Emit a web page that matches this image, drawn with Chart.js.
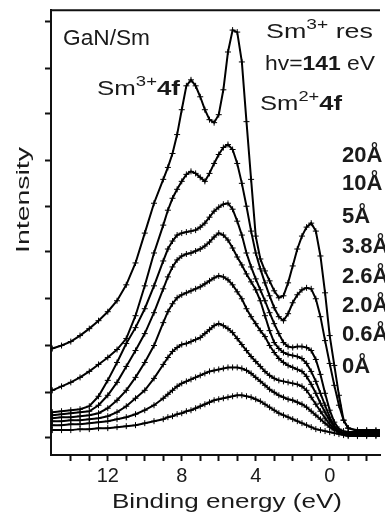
<!DOCTYPE html>
<html>
<head>
<meta charset="utf-8">
<script src="https://cdn.jsdelivr.net/npm/chart.js@4.4.1/dist/chart.umd.min.js"></script>
<style>
  html, body { margin: 0; padding: 0; background: #fff; }
</style>
</head>
<body>
<canvas id="spectra" width="385" height="518"></canvas>
<script>
// binding energy grid (eV)
const energy = [15, 14.5, 14, 13.5, 13, 12.5, 12, 11.5, 11, 10.5, 10, 9.5, 9,
  8.75, 8.5, 8.25, 8, 7.75, 7.5, 7.25, 7, 6.75, 6.5, 6.25, 6, 5.75, 5.5, 5.25, 5,
  4.75, 4.5, 4.25, 4, 3.75, 3.5, 3.25, 3, 2.75, 2.5, 2.25, 2, 1.75, 1.5, 1.25, 1, 0.75, 0.5, 0.25, 0,
  -0.25, -0.5, -0.75, -1, -1.5, -2, -2.5, -3];

// intensity (arb. units) for each Sm thickness
const i20 = [89, 92, 96, 102, 109, 117, 126, 137, 153, 175, 205, 235, 259,
  271, 285, 304, 329, 353, 359, 353, 342, 329, 319, 316, 324, 349, 387, 409, 407,
  377, 317, 259, 202, 179, 167, 157, 147, 140, 142, 155, 172, 189, 202, 211, 215, 207, 182, 145, 102,
  72, 42, 17, 9, 7, 7, 7, 7];
const i10 = [47, 51, 55, 60, 66, 73, 80, 88, 99, 122, 152, 185, 213,
  228, 240, 249, 257, 264, 267, 265, 261, 257, 265, 275, 284, 291, 294, 289, 275,
  255, 232, 207, 185, 169, 155, 142, 130, 121, 117, 124, 135, 143, 148, 150, 149, 139, 121, 97, 74,
  52, 32, 17, 9, 6, 6, 6, 6];
const i5 = [25, 26, 27, 28, 31, 41, 57, 75, 94, 110, 129, 152, 177,
  189, 197, 203, 205, 206, 207, 208, 211, 215, 221, 227, 231, 234, 235, 229, 217,
  203, 185, 171, 159, 148, 137, 125, 114, 104, 95, 91, 90, 91, 91, 90, 87, 78, 63, 44, 27,
  15, 8, 6, 5, 5, 5, 5, 5];
const i3_8 = [22, 23, 24, 25, 26, 32, 42, 55, 71, 87, 104, 125, 149,
  161, 171, 178, 182, 184, 185, 187, 189, 192, 196, 201, 205, 203, 198, 190, 181,
  173, 164, 156, 148, 137, 122, 107, 95, 89, 85, 83, 82, 81, 79, 74, 66, 56, 44, 32, 20,
  11, 6, 4, 4, 4, 4, 4, 4];
const i2_6 = [19, 20, 20, 21, 22, 24, 29, 37, 47, 60, 75, 92, 115,
  126, 134, 140, 143, 145, 147, 149, 151, 154, 157, 160, 162, 161, 158, 153, 146,
  139, 129, 121, 114, 107, 101, 92, 85, 79, 75, 72, 70, 68, 66, 61, 53, 44, 34, 25, 17,
  10, 6, 4, 3, 3, 3, 3, 3];
const i2_0 = [16, 16, 17, 17, 18, 19, 21, 25, 31, 39, 47, 59, 73,
  80, 86, 90, 93, 94, 96, 98, 100, 104, 108, 112, 114, 112, 109, 105, 99,
  93, 87, 81, 76, 71, 66, 62, 59, 57, 56, 55, 54, 53, 51, 47, 40, 33, 26, 19, 13,
  8, 5, 3, 3, 3, 3, 3, 3];
const i0_6 = [12, 12, 13, 13, 14, 15, 16, 18, 20, 23, 27, 32, 39,
  43, 47, 51, 54, 56, 58, 60, 62, 64, 66, 67, 68, 69, 70, 70, 70,
  69, 67, 64, 60, 56, 52, 48, 45, 42, 40, 38, 37, 35, 33, 30, 26, 22, 18, 14, 10,
  7, 5, 3, 2, 2, 2, 2, 2];
const i0 = [7, 7, 7, 8, 8, 9, 9, 10, 11, 12, 14, 16, 18,
  20, 21, 23, 24, 26, 27, 29, 31, 33, 35, 37, 38, 39, 40, 41, 42,
  42, 41, 40, 38, 36, 33, 30, 27, 24, 22, 20, 18, 16, 14, 12, 10, 8, 7, 6, 5,
  4, 3, 2, 1, 1, 1, 1, 1];

const thickness = ['20Å', '10Å', '5Å', '3.8Å', '2.6Å', '2.0Å', '0.6Å', '0Å'];
const series = [i20, i10, i5, i3_8, i2_6, i2_0, i0_6, i0];

// ticks
const xTickValues = [-2, -1, 0, 1, 2, 3, 4, 5, 6, 7, 8, 9, 10, 11, 12, 13, 14];
const xTickLabels = [0, 4, 8, 12];
const yTickValues = [0, 45, 92, 139, 187, 232, 278, 325, 370, 418];

const FONT = 'Arial, "Liberation Sans", sans-serif';
const INK = '#1a1a1a';

// draw a run of text pieces, optionally stretched to a given width
function textRun(ctx, x, y, pieces, width) {
  let total = 0;
  pieces.forEach(p => { ctx.font = p[1]; total += ctx.measureText(p[0]).width; });
  const sx = width ? width / total : 1;
  ctx.save();
  ctx.translate(x, y);
  ctx.scale(sx, 1);
  let cx = 0;
  pieces.forEach(p => {
    ctx.font = p[1];
    ctx.fillText(p[0], cx, -(p[2] || 0));
    cx += ctx.measureText(p[0]).width;
  });
  ctx.restore();
}

const annotations = {
  id: 'annotations',
  afterDraw(chart) {
    const ctx = chart.ctx;
    const a = chart.chartArea;
    ctx.save();
    // top frame line
    ctx.strokeStyle = '#111';
    ctx.lineWidth = 2;
    ctx.beginPath();
    ctx.moveTo(a.left - 1, a.top);
    ctx.lineTo(a.right, a.top);
    ctx.stroke();

    ctx.fillStyle = INK;
    ctx.textBaseline = 'alphabetic';
    ctx.textAlign = 'left';
    const reg = '21px ' + FONT, bold = 'bold 21px ' + FONT, sup = '15px ' + FONT;
    textRun(ctx, 63, 45, [['GaN/Sm', '22px ' + FONT]], 87);
    textRun(ctx, 97, 95, [['Sm', reg], ['3+', sup, 9], ['4f', bold]], 83);
    textRun(ctx, 266, 38, [['Sm', reg], ['3+', sup, 9], [' res', reg]], 107);
    textRun(ctx, 265, 70, [['hv=', reg], ['141', bold], [' eV', reg]], 110);
    textRun(ctx, 260, 110, [['Sm', reg], ['2+', sup, 9], ['4f', bold]], 82);

    const baselines = [162, 190, 223, 253, 283, 312, 341, 373];
    thickness.forEach((t, i) => textRun(ctx, 342, baselines[i], [[t, 'bold 22px ' + FONT]]));

    // axis titles
    ctx.font = '21px ' + FONT;
    textRun(ctx, 227 - 115, 508, [['Binding energy (eV)', '21px ' + FONT]], 230);
    ctx.save();
    ctx.translate(29, 253);
    ctx.rotate(-Math.PI / 2);
    textRun(ctx, 0, 0, [['Intensity', '18px ' + FONT]], 106);
    ctx.restore();
    ctx.restore();
  }
};

const ctx = document.getElementById('spectra').getContext('2d');

const config = {
  type: 'line',
  data: {
    datasets: thickness.map((t, k) => ({
      label: t,
      data: energy.map((e, i) => ({ x: e, y: series[k][i] })),
      borderColor: '#000',
      borderWidth: 2,
      pointStyle: 'cross',
      pointRadius: 3,
      pointBorderWidth: 1,
      pointBorderColor: '#000',
      tension: 0,
      fill: false
    }))
  },
  options: {
    responsive: false,
    devicePixelRatio: 1,
    animation: false,
    layout: { padding: { top: 8, left: 0, right: 0, bottom: 0 } },
    plugins: {
      legend: { display: false },
      tooltip: { enabled: false }
    },
    scales: {
      x: {
        type: 'linear',
        reverse: true,
        min: -2.72,
        max: 15.07,
        afterBuildTicks: s => { s.ticks = xTickValues.map(v => ({ value: v })); },
        afterFit: s => { s.height = 63; },
        ticks: {
          autoSkip: false,
          maxRotation: 0,
          minRotation: 0,
          padding: 3,
          color: INK,
          font: { family: FONT, size: 20 },
          callback: v => (xTickLabels.includes(v) ? String(v) : '')
        },
        grid: { drawOnChartArea: false, drawTicks: true, tickLength: 6, tickWidth: 2, tickColor: '#111' },
        border: { display: true, color: '#111', width: 2 }
      },
      y: {
        min: -18,
        max: 429,
        afterBuildTicks: s => { s.ticks = yTickValues.map(v => ({ value: v })); },
        afterFit: s => { s.width = 51; },
        ticks: { callback: () => '' },
        grid: { drawOnChartArea: false, drawTicks: true, tickLength: 6, tickWidth: 2, tickColor: '#111' },
        border: { display: true, color: '#111', width: 2 }
      }
    }
  },
  plugins: [annotations]
};

const spectraChart = new Chart(ctx, config);
</script>
</body>
</html>
